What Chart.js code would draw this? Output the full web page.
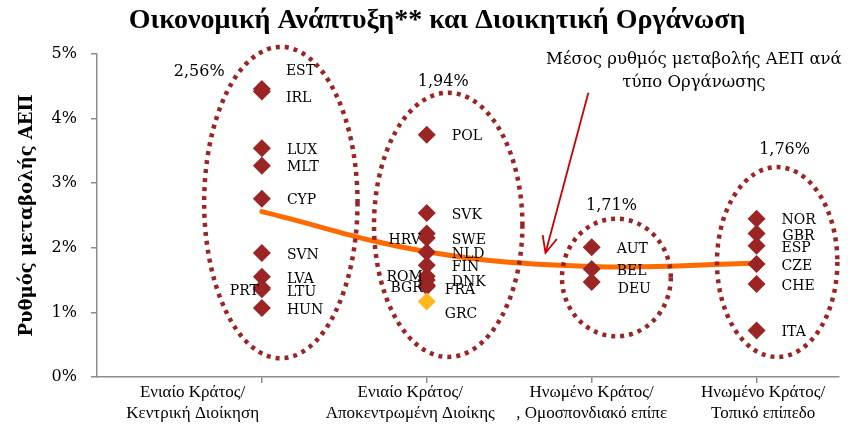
<!DOCTYPE html>
<html>
<head>
<meta charset="utf-8">
<script src="https://cdn.jsdelivr.net/npm/chart.js@4.4.0/dist/chart.umd.min.js"></script>
<style>
  html, body { margin: 0; padding: 0; background: #fff; }
  #wrap { width: 848px; height: 428px; }
</style>
</head>
<body>
<div id="wrap"><canvas id="chart-growth"></canvas></div>
<script>
// ══════════════════════════════════════════
// DATA
// ══════════════════════════════════════════

const categories = [
  ['Ενιαίο Κράτος/', 'Κεντρική Διοίκηση'],
  ['Ενιαίο Κράτος/', 'Αποκεντρωμένη Διοίκης'],
  ['Ηνωμένο Κράτος/', ', Ομοσπονδιακό επίπε'],
  ['Ηνωμένο Κράτος/', 'Τοπικό επίπεδο']
];

const centralCodes   = ['EST', 'IRL', 'LUX', 'MLT', 'CYP', 'SVN', 'LVA', 'PRT', 'LTU', 'HUN'];
const centralGrowth  = [4.46, 4.42, 3.54, 3.27, 2.76, 1.92, 1.55, 1.38, 1.36, 1.07];

const regionalCodes  = ['POL', 'SVK', 'HRV', 'SWE', 'NLD', 'FIN', 'ROM', 'DNK', 'BGR', 'FRA', 'GRC'];
const regionalGrowth = [3.75, 2.54, 2.22, 2.15, 1.93, 1.73, 1.56, 1.50, 1.42, 1.40, 1.17];

const federalCodes   = ['AUT', 'BEL', 'DEU'];
const federalGrowth  = [2.01, 1.67, 1.47];

const localCodes     = ['NOR', 'GBR', 'ESP', 'CZE', 'CHE', 'ITA'];
const localGrowth    = [2.45, 2.22, 2.03, 1.75, 1.44, 0.72];

const groupMeans     = [2.56, 1.94, 1.71, 1.76];
const yTickLabels    = ['0%', '1%', '2%', '3%', '4%', '5%'];
const highlighted    = ['GRC'];

const TITLE     = 'Οικονομική Ανάπτυξη** και Διοικητική Οργάνωση';
const Y_TITLE   = 'Ρυθμός μεταβολής ΑΕΠ';
const NOTE      = ['Μέσος ρυθμός μεταβολής ΑΕΠ ανά', 'τύπο Οργάνωσης'];

// ══════════════════════════════════════════
// STYLE
// ══════════════════════════════════════════

const DARK_RED = '#9B2424';
const ORANGE   = '#FF6A00';
const AMBER    = '#FFB81C';
const AXIS     = '#8C8C8C';
const SERIF    = '"DejaVu Serif", Georgia, serif';
const TIMES    = '"Liberation Serif", "Times New Roman", serif';

// where the category captions sit along the x scale
const CAPTION_POS = [0.58, 1.9, 3.0, 4.04];

// dotted rings around each group, in axis units
const RINGS = [
  { x0: 0.65, x1: 1.58, y0: 0.29, y1: 5.11, lx: 0.62, ly: 4.72 },
  { x0: 1.68, x1: 2.58, y0: 0.31, y1: 4.40, lx: 2.10, ly: 4.57 },
  { x0: 2.82, x1: 3.48, y0: 0.63, y1: 2.45, lx: 3.12, ly: 2.65 },
  { x0: 3.76, x1: 4.49, y0: 0.31, y1: 3.25, lx: 4.17, ly: 3.51 }
];

// label nudges [dx, dy, align] for crowded points
const NUDGE = {
  EST: [24, -18], IRL: [24, 7],
  PRT: [-3, 4, 'right'], LTU: [25, 3],
  HRV: [-6, 7, 'right'], ROM: [-4, 1, 'right'], BGR: [-4, 3, 'right'],
  FRA: [18, 4], GRC: [18, 13],
  DEU: [26, 7], GBR: [26, 3]
};

// ══════════════════════════════════════════
// BUILD
// ══════════════════════════════════════════

const groups = [
  [centralCodes, centralGrowth],
  [regionalCodes, regionalGrowth],
  [federalCodes, federalGrowth],
  [localCodes, localGrowth]
];
const countryPoints = [];
groups.forEach(([codes, vals], i) => {
  codes.forEach((c, j) => countryPoints.push({ x: i + 1, y: vals[j], code: c }));
});
const meanPoints = groupMeans.map((v, i) => ({ x: i + 1, y: v }));

const pct = v => v.toFixed(2).replace('.', ',') + '%';

const titlePlugin = {
  id: 'titleText',
  afterDraw(chart) {
    const ctx = chart.ctx;
    ctx.save();
    ctx.fillStyle = '#000';
    ctx.font = `bold 28px ${TIMES}`;
    ctx.textAlign = 'center';
    ctx.textBaseline = 'middle';
    ctx.fillText(TITLE, 437, 21);
    ctx.translate(27, (chart.chartArea.top + chart.chartArea.bottom) / 2);
    ctx.rotate(-Math.PI / 2);
    ctx.font = `bold 18px ${SERIF}`;
    ctx.fillText(Y_TITLE, 0, 0);
    ctx.restore();
  }
};

const ringPlugin = {
  id: 'rings',
  afterDatasetsDraw(chart) {
    const { ctx, scales: { x, y } } = chart;
    ctx.save();
    RINGS.forEach((r, i) => {
      const px0 = x.getPixelForValue(r.x0), px1 = x.getPixelForValue(r.x1);
      const py0 = y.getPixelForValue(r.y0), py1 = y.getPixelForValue(r.y1);
      ctx.beginPath();
      ctx.ellipse((px0 + px1) / 2, (py0 + py1) / 2, (px1 - px0) / 2, (py0 - py1) / 2, 0, 0, Math.PI * 2);
      ctx.strokeStyle = DARK_RED;
      ctx.lineWidth = 4.5;
      ctx.setLineDash([4, 5]);
      ctx.stroke();
      ctx.setLineDash([]);
      ctx.fillStyle = '#000';
      ctx.font = `16px ${SERIF}`;
      ctx.textAlign = 'center';
      ctx.textBaseline = 'middle';
      ctx.fillText(pct(groupMeans[i]), x.getPixelForValue(r.lx), y.getPixelForValue(r.ly));
    });

    // note with arrow pointing at the average line
    ctx.font = `16.5px ${SERIF}`;
    ctx.fillText(NOTE[0], x.getPixelForValue(3.62), y.getPixelForValue(4.91));
    ctx.fillText(NOTE[1], x.getPixelForValue(3.62), y.getPixelForValue(4.55));
    const ax = x.getPixelForValue(2.98), ay = y.getPixelForValue(4.40);
    const tx = x.getPixelForValue(2.72), ty = y.getPixelForValue(1.92);
    const ang = Math.atan2(ty - ay, tx - ax);
    ctx.strokeStyle = '#CC0000';
    ctx.lineWidth = 1.8;
    ctx.beginPath();
    ctx.moveTo(ax, ay); ctx.lineTo(tx, ty);
    ctx.moveTo(tx - 18 * Math.cos(ang - 0.42), ty - 18 * Math.sin(ang - 0.42));
    ctx.lineTo(tx, ty);
    ctx.lineTo(tx - 18 * Math.cos(ang + 0.42), ty - 18 * Math.sin(ang + 0.42));
    ctx.stroke();
    ctx.restore();
  }
};

const codeLabelPlugin = {
  id: 'codeLabels',
  afterDatasetsDraw(chart) {
    const ctx = chart.ctx;
    const meta = chart.getDatasetMeta(0);
    ctx.save();
    ctx.fillStyle = '#000';
    ctx.font = `14px ${SERIF}`;
    ctx.textBaseline = 'middle';
    meta.data.forEach((pt, i) => {
      const code = chart.data.datasets[0].data[i].code;
      const [dx, dy, align] = NUDGE[code] || [25, 2];
      ctx.textAlign = align || 'left';
      ctx.fillText(code, pt.x + dx, pt.y + dy);
    });
    ctx.restore();
  }
};

new Chart(document.getElementById('chart-growth').getContext('2d'), {
  type: 'scatter',
  data: {
    datasets: [
      {
        label: 'Χώρες',
        data: countryPoints,
        pointStyle: 'rectRot',
        pointRadius: 9,
        pointHoverRadius: 9,
        pointBorderWidth: 0,
        pointBackgroundColor: countryPoints.map(p => highlighted.includes(p.code) ? AMBER : DARK_RED),
        order: 0
      },
      {
        label: 'Μέσος όρος',
        type: 'line',
        data: meanPoints,
        borderColor: ORANGE,
        borderWidth: 5,
        borderCapStyle: 'round',
        tension: 0.4,
        pointRadius: 0,
        fill: false,
        order: 1
      }
    ]
  },
  options: {
    responsive: true,
    maintainAspectRatio: false,
    animation: false,
    layout: { padding: { top: 54, right: 0, bottom: 0, left: 0 } },
    plugins: { legend: { display: false }, tooltip: { enabled: false } },
    scales: {
      x: {
        type: 'linear', min: 0, max: 4.5, weight: 0,
        afterBuildTicks: s => { s.ticks = [1, 2, 3, 4].map(v => ({ value: v })); },
        afterFit: s => { s.height = 6; },
        ticks: { display: false },
        grid: { drawOnChartArea: false, drawTicks: true, tickLength: 6, color: AXIS, lineWidth: 1.5 },
        border: { color: AXIS, width: 1.5 }
      },
      xCat: {
        type: 'linear', position: 'bottom', min: 0, max: 4.5, weight: 1,
        afterBuildTicks: s => { s.ticks = CAPTION_POS.map(v => ({ value: v })); },
        afterFit: s => { s.height = 45; },
        ticks: {
          autoSkip: false, maxRotation: 0, padding: -9, color: '#000',
          font: { family: TIMES, size: 17, lineHeight: 1.25 },
          callback: (v, i) => categories[i]
        },
        grid: { display: false },
        border: { display: false }
      },
      y: {
        min: 0, max: 5,
        afterFit: s => { s.width = 97; },
        ticks: {
          stepSize: 1, padding: 14, color: '#000',
          font: { family: SERIF, size: 16 },
          callback: (v) => yTickLabels[v]
        },
        grid: { drawOnChartArea: false, drawTicks: true, tickLength: 6, color: AXIS, lineWidth: 1.5 },
        border: { color: AXIS, width: 1.5 }
      }
    }
  },
  plugins: [ringPlugin, codeLabelPlugin, titlePlugin]
});
</script>
</body>
</html>
